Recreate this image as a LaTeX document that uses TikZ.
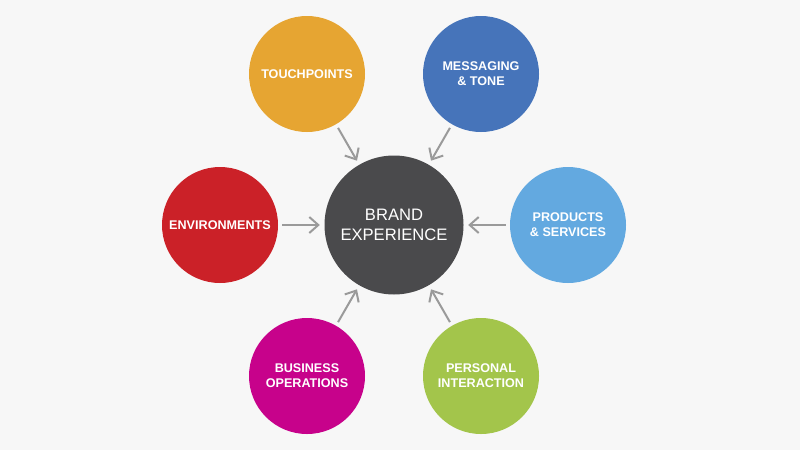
\documentclass[tikz,border=0pt]{standalone}
\usepackage{fontspec}
\setmainfont{Liberation Sans}
\usetikzlibrary{arrows.meta}
\usetikzlibrary{shapes}

\definecolor{bgcol}{HTML}{F7F7F7}
\definecolor{tpcol}{HTML}{E6A532}
\definecolor{mtcol}{HTML}{4674BA}
\definecolor{encol}{HTML}{CB2128}
\definecolor{pscol}{HTML}{63A9E0}
\definecolor{bocol}{HTML}{C7028B}
\definecolor{picol}{HTML}{A3C54B}
\definecolor{becol}{HTML}{4A4A4C}
\definecolor{arcol}{HTML}{9A9A9A}

\begin{document}
\begin{tikzpicture}[x=1pt, y=-1pt,
    facet/.style={circle, minimum size=116pt, inner sep=0pt, text=white,
        align=center, font=\bfseries\fontsize{12.6}{15}\selectfont},
    hub/.style={circle, minimum size=139pt, inner sep=0pt, fill=becol, text=white,
        align=center, font=\fontsize{16.6}{20}\selectfont},
    feed/.style={draw=arcol, line width=2pt, shorten <=4pt, shorten >=4.5pt,
        -{Straight Barb[length=9pt, width=16pt]}}]

    % Background
    \fill[bgcol] (0, 0) rectangle (800, 450);
    \useasboundingbox (0, 0) rectangle (800, 450);

    % Declare the circles
    \node[hub] at (394, 225) (BE) {BRAND\\EXPERIENCE};
    \node[facet, fill=tpcol] at (307, 74) (TP) {TOUCHPOINTS};
    \node[facet, fill=mtcol] at (481, 74) (MT) {MESSAGING\\\& TONE};
    \node[facet, fill=encol] at (220, 225) (EN) {ENVIRONMENTS};
    \node[facet, fill=pscol] at (568, 225) (PS) {PRODUCTS\\\& SERVICES};
    \node[facet, fill=bocol] at (307, 376) (BO) {BUSINESS\\OPERATIONS};
    \node[facet, fill=picol] at (481, 376) (PI) {PERSONAL\\INTERACTION};

    % Declare edges
    \draw[feed] (TP) -- (BE);
    \draw[feed] (MT) -- (BE);
    \draw[feed] (EN) -- (BE);
    \draw[feed] (PS) -- (BE);
    \draw[feed] (BO) -- (BE);
    \draw[feed] (PI) -- (BE);

\end{tikzpicture}
\end{document}
